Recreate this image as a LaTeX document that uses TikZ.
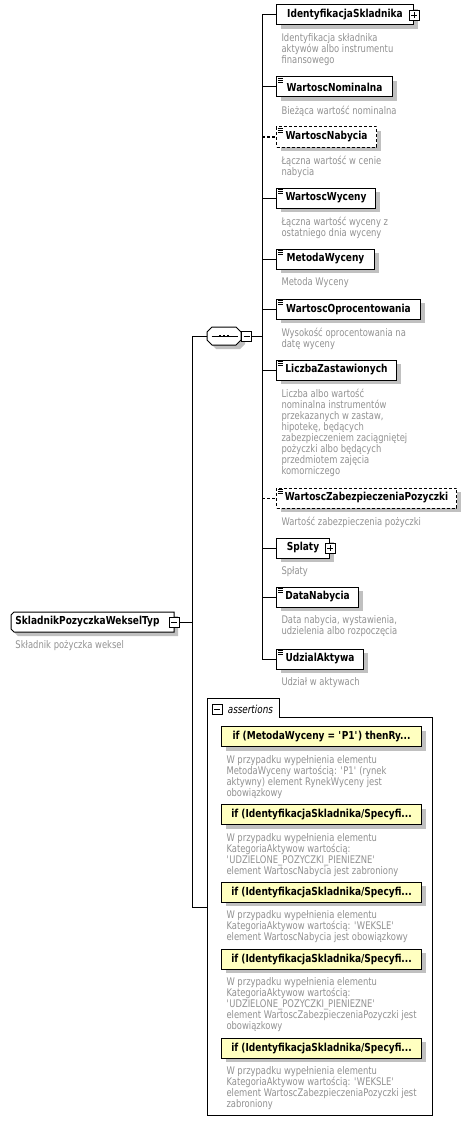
\documentclass[tikz,border=0pt]{standalone}
\usepackage{fontspec}
\setmainfont{DejaVu Sans}[FakeStretch=0.8, BoldFeatures={FakeStretch=0.82}]
\usetikzlibrary{positioning,shadows,calc}

\definecolor{descgray}{RGB}{145,145,145}
\definecolor{shadowgray}{RGB}{192,192,192}
\definecolor{assertyellow}{RGB}{255,255,192}
\newcommand{\sq}{\textquotesingle}

\tikzset{
  elem/.style={draw, fill=white, anchor=west, minimum height=20pt, inner xsep=4pt, inner ysep=0pt,
    font=\bfseries\fontsize{11}{13}\selectfont,
    drop shadow={shadow xshift=4pt, shadow yshift=-4pt, fill=shadowgray, opacity=1}},
  optelem/.style={elem, dash pattern=on 3pt off 2pt},
  assert/.style={elem, fill=assertyellow, minimum width=200pt},
  desc/.style={text=descgray, inner sep=0pt, align=left, font=\fontsize{10.5}{11}\selectfont},
  pm/.style={draw, fill=white, line width=0.8pt, minimum size=10pt, inner sep=0pt},
  minus/.style={pm, path picture={
    \draw[line width=0.8pt] ([xshift=2pt]path picture bounding box.west) -- ([xshift=-2pt]path picture bounding box.east);}},
  plus/.style={pm, path picture={
    \draw[line width=0.8pt] ([xshift=2pt]path picture bounding box.west) -- ([xshift=-2pt]path picture bounding box.east)
      ([yshift=-2pt]path picture bounding box.north) -- ([yshift=2pt]path picture bounding box.south);}}
}

\begin{document}
\begin{tikzpicture}[x=1pt, y=-1pt, line width=1pt]
  \useasboundingbox (0,0) rectangle (471,1121);

  % root complex type
  \fill[shadowgray, shift={(4,4)}] (14,612) -- (174,612) -- (174,632) -- (14,632) -- (11,629) -- (11,615) -- cycle;
  \filldraw[fill=white] (14,612) -- (174,612) -- (174,632) -- (14,632) -- (11,629) -- (11,615) -- cycle;
  \node[anchor=west, minimum height=20pt, text width=155pt, inner xsep=4pt, inner ysep=0pt, align=left,
    font=\bfseries\fontsize{11}{13}\selectfont] (root) at (11,622) {SkladnikPozyczkaWekselTyp};
  \node[minus] (rootpm) at (174,622) {};
  \node[desc, below right=8pt and 4pt of root.south west] (rootdesc) {Składnik pożyczka weksel};

  % sequence
  \fill[shadowgray, shift={(4,4)}] (212,327) -- (236,327) -- (241,332) -- (241,340) -- (236,345) -- (212,345) -- (207,340) -- (207,332) -- cycle;
  \filldraw[fill=white] (212,327) -- (236,327) -- (241,332) -- (241,340) -- (236,345) -- (212,345) -- (207,340) -- (207,332) -- cycle;
  \node[minimum width=34pt, minimum height=18pt, inner sep=0pt] (seq) at (224,336) {};
  \draw ($(seq.west)+(5,0)$) -- ($(seq.east)+(-4,0)$);
  \foreach \dx in {-4,0,4}
    \fill ($(seq.center)+(\dx-1.4,-1.4)$) rectangle +(2.8,2.8);
  \node[minus] (seqpm) at (246.5,336) {};

  % child elements
  \node[elem, minimum width=137pt] (e1) at (276,15) {IdentyfikacjaSkladnika};
  \node[plus] (e1pm) at (e1.east) {};
  \node[desc, below right=8pt and 5pt of e1.south west] (d1) {Identyfikacja składnika\\aktywów albo instrumentu\\finansowego};

  \node[elem, minimum width=116pt] (e2) at (276,87) {WartoscNominalna};
  \node[desc, below right=8pt and 5pt of e2.south west] (d2) {Bieżąca wartość nominalna};

  \node[optelem, minimum width=100pt] (e3) at (276,137) {WartoscNabycia};
  \node[desc, below right=8pt and 5pt of e3.south west] (d3) {Łączna wartość w cenie\\nabycia};

  \node[elem, minimum width=99pt] (e4) at (276,198) {WartoscWyceny};
  \node[desc, below right=8pt and 5pt of e4.south west] (d4) {Łączna wartość wyceny z\\ostatniego dnia wyceny};

  \node[elem, minimum width=98pt] (e5) at (276,259) {MetodaWyceny};
  \node[desc, below right=8pt and 5pt of e5.south west] (d5) {Metoda Wyceny};

  \node[elem, minimum width=144pt] (e6) at (276,309) {WartoscOprocentowania};
  \node[desc, below right=8pt and 5pt of e6.south west] (d6) {Wysokość oprocentowania na\\datę wyceny};

  \node[elem, minimum width=120pt] (e7) at (276,370) {LiczbaZastawionych};
  \node[desc, below right=8pt and 5pt of e7.south west] (d7) {Liczba albo wartość\\nominalna instrumentów\\przekazanych w zastaw,\\hipotekę, będących\\zabezpieczeniem zaciągniętej\\pożyczki albo będących\\przedmiotem zajęcia\\komorniczego};

  \node[optelem, minimum width=180pt] (e8) at (276,498) {WartoscZabezpieczeniaPozyczki};
  \node[desc, below right=8pt and 5pt of e8.south west] (d8) {Wartość zabezpieczenia pożyczki};

  \node[elem, minimum width=53pt] (e9) at (276,548) {Splaty};
  \node[plus] (e9pm) at (e9.east) {};
  \node[desc, below right=8pt and 5pt of e9.south west] (d9) {Spłaty};

  \node[elem, minimum width=82pt] (e10) at (276,597) {DataNabycia};
  \node[desc, below right=8pt and 5pt of e10.south west] (d10) {Data nabycia, wystawienia,\\udzielenia albo rozpoczęcia};

  \node[elem, minimum width=87pt] (e11) at (276,659) {UdzialAktywa};
  \node[desc, below right=8pt and 5pt of e11.south west] (d11) {Udział w aktywach};

  % simple type icons
  \foreach \n in {e2,e3,e4,e5,e6,e7,e8,e10,e11}
    \foreach \dy in {2,3.7,5.4}
      \draw[line width=0.7pt] ($(\n.north west)+(2,\dy)$) -- ++(5,0);

  % assertions
  \draw[fill=white] (207,698) -- (279,698) -- (279,717) -- (432,717) -- (432,1115) -- (207,1115) -- cycle;
  \coordinate (asrt) at (207,907);
  \node[minus] (asrtpm) at (217,709) {};
  \node[right=5pt of asrtpm, inner sep=0pt, font=\itshape\fontsize{11}{13}\selectfont] (asrtlabel) {assertions};

  \node[assert] (a1) at (221,736.5) {if (MetodaWyceny = \sq P1\sq) thenRy...};
  \node[desc, below right=8pt and 5pt of a1.south west] (ad1) {W przypadku wypełnienia elementu\\MetodaWyceny wartością: \sq P1\sq{} (rynek\\aktywny) element RynekWyceny jest\\obowiązkowy};

  \node[assert] (a2) at (221,814.5) {if (IdentyfikacjaSkladnika/Specyfi...};
  \node[desc, below right=8pt and 5pt of a2.south west] (ad2) {W przypadku wypełnienia elementu\\KategoriaAktywow wartością:\\\sq UDZIELONE\_POZYCZKI\_PIENIEZNE\sq\\element WartoscNabycia jest zabroniony};

  \node[assert] (a3) at (221,892) {if (IdentyfikacjaSkladnika/Specyfi...};
  \node[desc, below right=8pt and 5pt of a3.south west] (ad3) {W przypadku wypełnienia elementu\\KategoriaAktywow wartością: \sq WEKSLE\sq\\element WartoscNabycia jest obowiązkowy};

  \node[assert] (a4) at (221,959) {if (IdentyfikacjaSkladnika/Specyfi...};
  \node[desc, below right=8pt and 5pt of a4.south west] (ad4) {W przypadku wypełnienia elementu\\KategoriaAktywow wartością:\\\sq UDZIELONE\_POZYCZKI\_PIENIEZNE\sq\\element WartoscZabezpieczeniaPozyczki jest\\obowiązkowy};

  \node[assert] (a5) at (221,1048) {if (IdentyfikacjaSkladnika/Specyfi...};
  \node[desc, below right=8pt and 5pt of a5.south west] (ad5) {W przypadku wypełnienia elementu\\KategoriaAktywow wartością: \sq WEKSLE\sq\\element WartoscZabezpieczeniaPozyczki jest\\zabroniony};

  % connectors
  \coordinate (trunktop) at (192,336);
  \coordinate (trunkbot) at (192,907);
  \coordinate (spine) at (262,336);
  \draw (rootpm.east) -- (rootpm.east -| trunktop);
  \draw (trunktop) -- (trunkbot);
  \draw (trunktop) -- (seq.west);
  \draw (trunkbot) -- (asrt);
  \draw (seqpm.east) -- (spine);
  \draw (e1.west -| spine) -- (e11.west -| spine);
  \foreach \n in {e1,e2,e4,e5,e6,e7,e9,e10,e11}
    \draw (\n.west -| spine) -- (\n.west);
  \foreach \n in {e3,e8}
    \draw[dash pattern=on 3pt off 2pt] (\n.west -| spine) -- (\n.west);

\end{tikzpicture}
\end{document}
